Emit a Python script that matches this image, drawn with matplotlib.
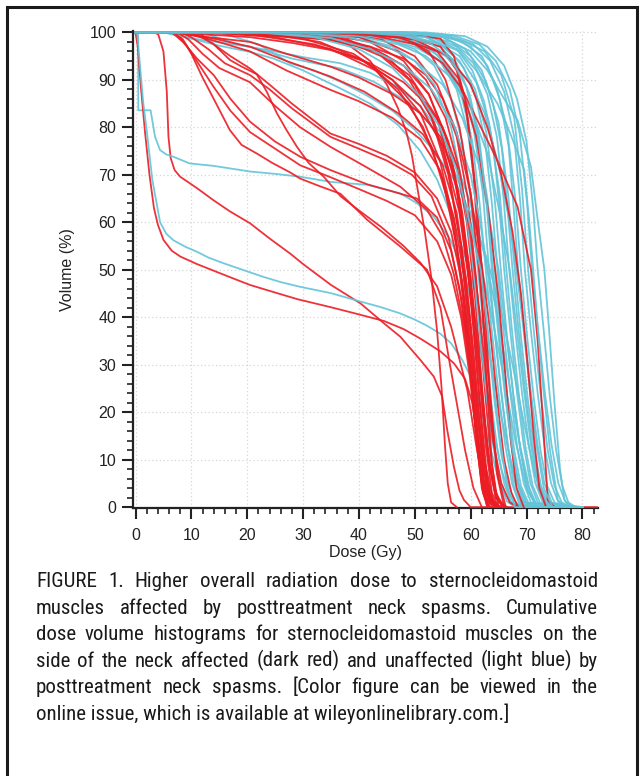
import matplotlib
matplotlib.use('Agg')
import matplotlib.pyplot as plt
from matplotlib.ticker import MultipleLocator
from matplotlib.patches import Rectangle
from matplotlib import font_manager
from matplotlib.font_manager import FontProperties
from matplotlib.textpath import TextPath
from itertools import zip_longest

# ---- data: cumulative DVH curves, (dose Gy, volume %) ----
# affected side (red)
red_low = [
    ([0, 3.5, 4.1, 5.0, 5.6, 5.9, 6.3, 7.0, 8.0, 11, 13.9, 16.9, 20.5, 24, 27.7, 30, 35, 40.3, 44.5, 47.4, 51, 53.4, 54.9, 55.8, 57, 58, 58.8, 60, 83],
     [100, 100, 99.5, 96, 87.5, 78, 73.5, 71, 69.6, 67.2, 64.7, 62.3, 59.8, 56.6, 53.4, 51.2, 46.8, 42.9, 38.7, 35.9, 31, 27.5, 23.3, 16.3, 8.5, 3.5, 1.5, 0, 0]),
    ([0, 0.4, 1.0, 1.7, 2.5, 3.3, 4.0, 5.0, 6.5, 8.0, 11, 14, 17, 20.5, 25, 29, 35, 40, 44.5, 48, 51, 54.6, 57, 59, 60.3, 61.3, 62.3, 63.5, 65],
     [100, 97, 88, 79, 70, 63, 59.5, 56.3, 54, 52.8, 51.2, 49.8, 48.4, 46.8, 45.2, 43.8, 42.1, 40.6, 39.2, 37.5, 35.5, 32.8, 30.3, 27, 22, 14, 6, 1.5, 0]),
    ([0, 10, 11.5, 14, 16.9, 19, 21.7, 23.5, 25.3, 27, 28.9, 31, 33.7, 36.7, 40, 44, 48, 51, 54, 56.5, 59.4, 61, 62.3, 63.5, 65],
     [100, 100, 99.8, 97.5, 94.2, 92.8, 91.2, 87.5, 83, 79.5, 75.9, 72.5, 69.6, 65.5, 62.5, 59, 55, 51.5, 46.5, 38, 24.7, 13, 5, 0.8, 0]),
    ([0, 7, 8.5, 10, 12, 14, 16.9, 19, 21.7, 24.5, 27.7, 29.5, 33, 36.7, 41.5, 47.4, 52.2, 54.6, 56, 57.5, 59, 60.5, 62],
     [100, 100, 98.5, 95.5, 90.5, 86, 79.4, 76.3, 74.5, 72.5, 70.5, 69.2, 67.6, 66, 60.5, 54.9, 50, 42, 32, 22, 12, 4, 0]),
    ([0, 25, 32, 38, 42, 45, 47, 48.5, 49.5, 50.5, 51.8, 53, 54, 54.8, 55.4, 55.9, 56.5, 57.5],
     [100, 100, 99.3, 97.5, 94, 89, 84, 79, 74, 67, 58, 48, 37, 25, 13, 5, 1, 0]),
]

red_fan = [
    ([0, 8, 12, 20.5, 28, 34.9, 42, 48, 52, 55, 57.5, 59.5, 61, 62.3, 63.5, 64.5, 66],
     [100, 100, 99.9, 99.6, 99.1, 98.4, 97, 94.5, 91, 86, 78, 65, 48, 28, 12, 3, 0]),
    ([0, 7, 10, 15, 20.5, 28, 34.9, 42, 48, 52, 55, 57.5, 59.3, 60.8, 62, 63.2, 64.5, 66],
     [100, 100, 99.7, 99.4, 99, 97.8, 96.3, 93.5, 89.5, 85, 80, 72, 60, 44, 26, 10, 2, 0]),
    ([0, 6.5, 9, 13, 20.5, 27, 34.9, 40, 46, 51, 54.6, 57, 58.8, 60.2, 61.4, 62.5, 63.6, 65],
     [100, 100, 99.6, 99, 98, 95.5, 92.8, 90.5, 87, 83, 78, 70, 58, 42, 25, 10, 2, 0]),
    ([0, 7.5, 10, 14, 20.5, 27, 34.9, 41, 47, 51.5, 55, 57.5, 59.2, 60.5, 61.6, 62.6, 63.6, 65],
     [100, 100, 99.5, 98.7, 97, 94, 90.7, 87.5, 83, 78.5, 72, 62, 48, 33, 18, 7, 1.5, 0]),
    ([0, 8, 10.5, 14, 20.5, 27, 34.9, 40, 46, 51, 54.5, 57, 58.8, 60, 61.2, 62.3, 63.3, 64.5],
     [100, 100, 99.3, 98.3, 96, 92, 87.9, 85.5, 82, 77.5, 71, 61, 49, 36, 20, 8, 2, 0]),
    ([0, 9, 11.5, 14, 17, 20.5, 24, 28, 34.9, 40, 45, 50, 54, 56.5, 58.5, 60, 61.2, 62.3, 63.5, 65],
     [100, 100, 99.2, 97.5, 95, 92.4, 89, 85, 78.7, 76.5, 74, 70.5, 65, 58, 47, 33, 19, 8, 2, 0]),
    ([0, 8, 10, 13, 16, 20.5, 24, 28, 34.9, 40, 45, 49.5, 53, 56, 58, 59.5, 60.7, 61.8, 62.8, 64],
     [100, 100, 99, 96.5, 93.5, 91, 88, 84, 78, 75.5, 73, 70, 65.5, 57, 46, 34, 20, 9, 2, 0]),
    ([0, 7.5, 9.5, 12, 15, 20.5, 25, 29.5, 34.9, 41.5, 47.4, 52.2, 55, 57, 58.5, 60, 61.2, 62.3, 63.3, 64.5],
     [100, 100, 98.5, 95.5, 92.5, 89.5, 84.5, 80, 75.9, 71.5, 67.5, 62.6, 57, 49, 40, 28, 16, 6, 1.5, 0]),
    ([0, 6.5, 8.5, 11, 14, 17, 20.5, 25, 29.5, 34.9, 41.5, 46, 50.4, 54, 56.5, 58.3, 59.8, 61, 62, 63.2],
     [100, 100, 98, 94.5, 91, 86, 81.2, 77, 73.8, 71, 68, 66.5, 65, 61, 54, 44, 31, 18, 7, 0]),
    ([0, 7, 9, 11.5, 14, 17, 20.5, 25, 29.5, 34.9, 40, 45, 50, 54, 56.5, 58.3, 59.8, 61, 62, 63],
     [100, 100, 97.5, 93, 88.5, 83.5, 79, 75.5, 72, 69.5, 67, 64.5, 61.5, 56, 49, 40, 28, 15, 5, 0]),
]

red_top = [
    ([0, 20, 30, 38, 44, 49, 53, 56, 58.3, 59.8, 61, 62.2, 63.3, 64.5, 66],
     [100, 100, 99.5, 98, 95, 90, 82, 70, 55, 40, 25, 11, 3, 0.5, 0]),
    ([0, 25, 35, 42, 48, 52.5, 56, 58.5, 60.3, 61.6, 62.8, 64, 65.2, 66.5],
     [100, 100, 99.2, 97, 93, 87, 77, 62, 45, 30, 15, 5, 1, 0]),
    ([0, 15, 25, 35, 43, 49, 54, 57.5, 59.5, 60.8, 61.8, 62.8, 64, 65],
     [100, 100, 99.5, 98.5, 96, 91, 82, 67, 50, 34, 20, 8, 1.5, 0]),
    ([0, 30, 40, 47, 52, 55.5, 58, 60, 61.5, 62.8, 64, 65.5, 67, 68.5],
     [100, 100, 99, 96, 90, 82, 71, 57, 42, 27, 14, 5, 1, 0]),
    ([0, 35, 44, 50, 54, 57.5, 60, 62, 63.5, 64.8, 66, 67.3, 68.5],
     [100, 100, 98.5, 95, 89, 79, 66, 51, 37, 22, 10, 3, 0]),
    ([0, 12, 22, 32, 40, 46, 51, 55, 58, 60, 61.5, 62.7, 63.8, 65],
     [100, 100, 99.3, 97.5, 94.5, 90, 84.5, 76, 62, 45, 28, 13, 3, 0]),
    ([0, 35, 45, 51, 54.6, 57, 59, 60.5, 61.7, 62.8, 63.8, 65],
     [100, 100, 99.7, 99.3, 98.7, 95, 86, 70, 50, 28, 9, 0]),
    ([0, 30, 42, 50, 54.6, 57.5, 59.5, 61, 62.3, 63.5, 64.7, 66],
     [100, 100, 99.5, 98.5, 97, 92, 82, 66, 45, 24, 7, 0]),
]

red_bundle = [
    ([0, 28, 38, 45, 50, 53.5, 56, 58, 59.3, 60.4, 61.4, 62.4, 63.5],
     [100, 100, 98.5, 95, 89, 81, 71, 57, 42, 27, 13, 3, 0]),
    ([0, 22, 33, 41, 47, 51.5, 55, 57.5, 59, 60.2, 61.2, 62.2, 63.2],
     [100, 100, 98, 94, 88, 80, 69, 55, 40, 25, 12, 3, 0]),
    ([0, 18, 30, 39, 46, 51, 54.5, 57, 58.8, 60, 61, 62, 63],
     [100, 100, 98.7, 95.5, 90, 83, 73, 60, 44, 29, 15, 4, 0]),
    ([0, 32, 42, 48, 52.5, 55.5, 58, 59.8, 61, 62.2, 63.3, 64.5, 65.8],
     [100, 100, 98, 94, 87, 78, 65, 50, 36, 21, 9, 2, 0]),
    ([0, 14, 25, 35, 43, 49, 53, 56.3, 58.4, 59.7, 60.8, 61.9, 63],
     [100, 100, 99, 96.5, 92, 85, 76, 63, 48, 33, 18, 6, 0]),
    ([0, 40, 48, 52.5, 55.5, 58, 60, 61.5, 62.7, 63.8, 65, 66.3],
     [100, 100, 99, 96, 90, 80, 66, 50, 34, 18, 6, 0]),
]

red_late = [
    ([0, 30, 42, 50, 55, 58.5, 61.2, 64.8, 68.4, 70.8, 72, 73, 73.8, 75],
     [100, 100, 99.5, 97.5, 93.5, 88, 81.5, 73, 63.3, 50, 35, 17, 1.5, 0]),
    ([0, 40, 50, 56, 60, 63, 65.5, 67.5, 69, 70.2, 71.3, 72.3, 73.5],
     [100, 100, 98.5, 95, 89, 80, 70, 58, 45, 30, 15, 4, 0]),
    ([0, 35, 47, 54, 58, 61, 63.2, 65, 66.2, 67.2, 68.2, 69.5],
     [100, 100, 99, 96, 90, 78, 62, 44, 28, 14, 4, 0]),
]

# unaffected side (blue)
blue_low = [
    ([0, 0.45, 0.5, 2.7, 3.0, 3.5, 4.4, 5.5, 6.8, 9.7, 13.9, 20.5, 25, 29.5, 35, 41.5, 47.4, 50.4, 53.4, 56.4, 58.2, 59.8, 61.2, 62.5, 64, 65.5, 67, 68.5, 80],
     [100, 100, 83.6, 83.6, 81.5, 78, 75.2, 74.3, 73.8, 72.4, 71.9, 70.7, 70.2, 69.6, 68.5, 67.9, 66.1, 64, 61.2, 56.3, 51.4, 45, 37, 28, 17, 8, 2.5, 0.3, 0]),
    ([0, 0.3, 0.8, 1.4, 2.0, 3.0, 4.4, 5.5, 6.8, 9, 11, 13, 15.7, 19.9, 22.9, 26, 29.5, 34.9, 40.3, 44, 47.4, 50, 52.2, 54.6, 56.5, 58.5, 60, 61, 61.8, 63, 64.5, 66, 67.5, 80],
     [100, 100, 93, 85, 79.4, 69, 60, 57.6, 56.2, 54.8, 53.8, 52.6, 51.4, 49.7, 48.5, 47.4, 46.4, 45.1, 43.3, 42.1, 40.8, 39.5, 38.2, 36.5, 34.5, 31, 27.5, 24.5, 21.2, 15, 8, 3, 0.5, 0]),
]

blue_early = [
    ([0, 5, 8, 12, 20.5, 28, 36.7, 42.7, 48.7, 52.5, 55.5, 58, 60, 62, 64, 66, 68, 70, 72, 80],
     [100, 100, 99.2, 98.4, 97, 94.5, 92.4, 89.6, 85.4, 81, 75.5, 68, 60, 50, 39, 27, 14, 4, 0, 0]),
    ([0, 6, 10, 15, 20.5, 24.7, 30, 36.7, 42, 47, 51, 54, 57, 59.5, 61.5, 63.5, 65.5, 67.5, 69.5, 80],
     [100, 100, 98.7, 97.2, 95.9, 94.5, 92, 88.2, 85, 80.5, 75, 69, 60, 51, 42, 31, 19, 8, 1, 0]),
    ([0, 12, 18.7, 25, 30, 36.7, 42, 47, 51, 54.5, 57.5, 60, 62.5, 64.5, 66.5, 68.5, 70.5, 72, 80],
     [100, 100, 97.3, 96, 94.8, 93.5, 91.5, 88.5, 84.5, 79, 72, 64, 53, 42, 29, 15, 4, 0, 0]),
    ([0, 15, 22, 27.7, 32, 36.7, 41, 46, 50, 53.5, 57, 60, 63, 65.5, 67.5, 69.5, 71.5, 73.5, 80],
     [100, 100, 97.5, 93.5, 92, 89.6, 87, 83.5, 79.5, 75, 69, 62, 52, 41, 30, 18, 7, 1, 0]),
]

blue_main = [
    ([0, 30, 40, 46, 50, 53.5, 56.5, 58.5, 60.5, 61.6, 62.8, 64, 65.3, 66.5, 68, 80],
     [100, 100, 99, 97, 94, 89, 80, 68, 50, 37, 24, 13, 5, 1.2, 0, 0]),
    ([0, 35, 44, 50, 53.5, 56.5, 58.5, 60, 61.3, 62.4, 63.6, 64.8, 66, 67.2, 68.7, 80],
     [100, 100, 99, 96.5, 93, 86, 77, 65, 50, 37, 23, 12, 5, 1.2, 0, 0]),
    ([0, 38, 46, 51, 54.5, 57.5, 59.5, 61, 62, 63.1, 64.3, 65.5, 66.8, 68, 69.5, 80],
     [100, 100, 99.2, 97, 94, 88, 79, 66, 50, 36, 22, 11, 4.5, 1, 0, 0]),
    ([0, 40, 48, 53, 56, 58.5, 60.3, 61.6, 62.7, 63.8, 65, 66.2, 67.4, 68.6, 70, 80],
     [100, 100, 99, 96.5, 92.5, 86, 77, 64, 50, 37, 24, 13, 5, 1, 0, 0]),
    ([0, 36, 45, 51, 55, 58, 60.5, 62.2, 63.3, 64.4, 65.6, 66.8, 68, 69.3, 70.8, 80],
     [100, 100, 99.3, 97.5, 94.5, 89, 80, 66, 50, 36, 23, 12, 5, 1, 0, 0]),
    ([0, 42, 50, 54.5, 57.5, 59.8, 61.5, 62.8, 63.8, 64.9, 66.1, 67.3, 68.5, 69.8, 71.3, 80],
     [100, 100, 99, 97, 93.5, 87, 78, 65, 50, 37, 24, 13, 5, 1, 0, 0]),
    ([0, 33, 43, 50, 54.5, 58, 60.8, 63, 64.3, 65.4, 66.6, 67.8, 69, 70.3, 71.8, 80],
     [100, 100, 99, 97, 94, 88.5, 80, 65, 50, 36.5, 23, 12, 4.5, 1, 0, 0]),
    ([0, 44, 52, 56, 58.8, 61, 62.6, 63.8, 64.8, 65.9, 67.1, 68.3, 69.5, 70.8, 72.3, 80],
     [100, 100, 99, 96.5, 92.5, 86, 77, 64, 50, 37, 24, 13, 5, 1, 0, 0]),
    ([0, 40, 49, 54.5, 58, 60.8, 62.8, 64.3, 65.4, 66.5, 67.7, 68.9, 70.1, 71.4, 72.9, 80],
     [100, 100, 99.3, 97.5, 94, 88, 79, 65, 50, 36, 23, 12, 5, 1, 0, 0]),
    ([0, 46, 53, 57.5, 60.3, 62.4, 64, 65.1, 66, 67.1, 68.3, 69.5, 70.7, 72, 73.5, 80],
     [100, 100, 99, 96.5, 92, 85.5, 76.5, 64, 50, 37, 24, 13, 5, 1, 0, 0]),
    ([0, 38, 48, 54, 58, 61, 63.3, 65.2, 66.4, 67.5, 68.7, 69.9, 71.1, 72.4, 73.9, 80],
     [100, 100, 99.4, 97.8, 95, 89.5, 81, 66, 50, 36, 23, 12, 4.5, 1, 0, 0]),
    ([0, 45, 53, 57.5, 60.5, 63, 64.7, 65.9, 66.9, 68, 69.2, 70.4, 71.6, 72.9, 74.4, 80],
     [100, 100, 99.2, 97, 93.5, 87, 78, 65, 50, 37, 24, 13, 5, 1, 0, 0]),
    ([0, 48, 55, 59, 62, 64, 65.6, 66.6, 67.5, 68.6, 69.8, 71, 72.2, 73.5, 75, 80],
     [100, 100, 99, 96.5, 92, 85, 75.5, 63, 50, 37, 24, 13, 5, 1, 0, 0]),
    ([0, 42, 51, 56.5, 60, 62.8, 65, 66.7, 67.9, 69, 70.2, 71.4, 72.6, 73.9, 75.4, 80],
     [100, 100, 99.4, 98, 95, 89.5, 81, 66, 50, 36, 23, 12, 4.5, 1, 0, 0]),
    ([0, 50, 56, 60, 63, 65.2, 66.8, 67.7, 68.5, 69.6, 70.8, 72, 73.2, 74.5, 76, 80],
     [100, 100, 99.2, 97, 93, 86, 76, 63, 50, 37, 24, 13, 5, 1, 0, 0]),
    ([0, 46, 54, 58.5, 62, 64.5, 66.5, 68, 69, 70.1, 71.3, 72.5, 73.7, 75, 76.5, 80],
     [100, 100, 99.5, 98, 95, 89, 80, 65, 50, 36, 23, 12, 4.5, 1, 0, 0]),
    ([0, 48, 56, 60.5, 63.5, 66, 67.8, 68.9, 69.7, 70.8, 72, 73.2, 74.4, 75.7, 77.2, 80],
     [100, 100, 99.3, 97.5, 94, 87.5, 78, 64, 50, 37, 24, 13, 5, 1, 0, 0]),
    ([0, 44, 53, 58.5, 62.5, 65.5, 67.8, 69.2, 70.3, 71.4, 72.6, 73.8, 75, 76.3, 77.8, 80],
     [100, 100, 99.5, 98.3, 96, 91, 82, 67, 50, 36, 23, 12, 4.5, 1, 0, 0]),
    ([0, 50, 57, 61.5, 64.5, 67, 68.8, 70.1, 71, 72.1, 73.3, 74.5, 75.7, 77, 78.3, 80],
     [100, 100, 99.3, 97.5, 94, 88, 78.5, 64, 50, 37, 24, 13, 5, 1, 0, 0]),
    ([0, 52, 59, 63, 66, 68.3, 70, 71.2, 72, 73.1, 74.2, 75.3, 76.4, 77.5, 78.8, 80],
     [100, 100, 99.2, 97, 93, 86, 77, 63, 50, 37, 23, 12, 4.5, 1, 0, 0]),
    ([0, 25, 35, 42, 48, 53, 57, 60, 61.7, 63, 64.2, 65.4, 66.6, 67.8, 69.3, 80],
     [100, 100, 98.8, 96.5, 93, 88, 80.5, 70, 60, 50, 38, 25, 13, 4, 0, 0]),
    ([0, 28, 38, 45, 50, 55, 58.5, 61.5, 63.3, 65, 66.3, 67.6, 68.9, 70.2, 71.8, 80],
     [100, 100, 99, 97, 94, 89, 82, 72, 61, 50, 37, 24, 12, 3.5, 0, 0]),
    ([0, 30, 40, 47, 52, 56.5, 60, 63, 65.2, 67, 68.2, 69.5, 70.8, 72.1, 73.7, 80],
     [100, 100, 99.2, 97.5, 95, 90.5, 84, 74.5, 62, 50, 38, 25, 13, 4, 0, 0]),
    ([0, 35, 45, 51, 55.5, 59.5, 62.5, 65, 66.8, 68.2, 69.4, 70.6, 71.8, 73.1, 74.7, 80],
     [100, 100, 99.3, 97.8, 95, 90, 83, 72, 61, 50, 38, 25, 13, 4, 0, 0]),
    ([0, 22, 32, 40, 46, 51, 54.5, 57.5, 60, 61.8, 63, 64.2, 65.4, 66.6, 68, 80],
     [100, 100, 99, 96.5, 92.5, 86.5, 80, 71, 59, 50, 38, 25, 13, 4, 0, 0]),
    ([0, 40, 48, 53, 56.5, 59.2, 61.2, 62.8, 64, 65.1, 66.3, 67.5, 68.7, 70, 71.5, 80],
     [100, 100, 99.3, 97.5, 94.5, 88.5, 79, 65, 50, 36.5, 23, 12, 4.5, 1, 0, 0]),
    ([0, 48, 55, 60, 63, 66, 68.4, 70.8, 72, 73.2, 74, 75, 76, 76.8, 78, 80],
     [100, 100, 99, 96, 92, 86, 81.5, 71.7, 60.5, 50, 38, 22, 8, 1.5, 0, 0]),
    ([0, 45, 52, 58, 61, 64.8, 67, 69.6, 70.5, 71.2, 72, 73, 74.2, 75.6, 77, 80],
     [100, 100, 99, 96, 92, 85, 79, 71, 60, 50, 38, 25, 12, 1.5, 0, 0]),
]

caption_lines = [
    "FIGURE 1. Higher overall radiation dose to sternocleidomastoid",
    "muscles affected by posttreatment neck spasms. Cumulative",
    "dose volume histograms for sternocleidomastoid muscles on the",
    "side of the neck affected (dark red) and unaffected (light blue) by",
    "posttreatment neck spasms. [Color figure can be viewed in the",
    "online issue, which is available at wileyonlinelibrary.com.]",
]

RED = '#ec1c24'
BLUE = '#62c4d8'

plt.rcParams['font.family'] = ['Liberation Sans', 'DejaVu Sans']


def pick_caption_font():
    # the caption is set in a condensed sans; use a narrow face if one is installed
    fonts = font_manager.fontManager.ttflist
    for name in ['Liberation Sans Narrow', 'Arial Narrow', 'Roboto Condensed',
                 'Open Sans Condensed', 'Noto Sans Condensed', 'DejaVu Sans Condensed']:
        for f in fonts:
            if f.name == name and f.style == 'normal' and f.weight in (400, 'normal', 'regular'):
                return FontProperties(fname=f.fname)
    for f in fonts:
        fn = f.fname.lower()
        if (f.stretch in ('condensed', 'semi-condensed') or 'narrow' in fn or 'condensed' in fn) \
                and f.style == 'normal' and f.weight in (400, 'normal', 'regular') \
                and 'mono' not in fn and 'serif' not in fn and 'bold' not in fn:
            return FontProperties(fname=f.fname)
    return FontProperties(family='Liberation Sans')


W, H = 641, 776
fig = plt.figure(figsize=(W / 100, H / 100), dpi=100)
ax = fig.add_axes([133 / W, 1 - 508.3 / H, 465 / W, 477.3 / H])

reds = red_low + red_fan + red_top + red_bundle + red_late
blues = blue_low + blue_early + blue_main
for r, b in zip_longest(reds, blues):
    if r is not None:
        ax.plot(r[0], r[1], color=RED, lw=1.3, alpha=0.9, solid_joinstyle='round')
    if b is not None:
        ax.plot(b[0], b[1], color=BLUE, lw=1.3, alpha=0.9, solid_joinstyle='round')

ax.set_xlim(-0.45, 82.8)
ax.set_ylim(-0.25, 100.3)
ax.xaxis.set_major_locator(MultipleLocator(10))
ax.xaxis.set_minor_locator(MultipleLocator(2))
ax.yaxis.set_major_locator(MultipleLocator(10))
ax.yaxis.set_minor_locator(MultipleLocator(2))

for side in ['top', 'right']:
    ax.spines[side].set_visible(False)
for side in ['left', 'bottom']:
    ax.spines[side].set_linewidth(1.6)
    ax.spines[side].set_color('#222222')
    ax.spines[side].set_zorder(1.5)

ax.tick_params(which='major', direction='out', length=8, width=1.5, color='#222222',
               labelsize=11.5, labelcolor='#222222')
ax.tick_params(which='minor', direction='out', length=4.5, width=1.2, color='#222222')
ax.tick_params(axis='x', which='major', pad=6)
ax.tick_params(axis='y', which='major', pad=4)

ax.grid(True, which='major', color='#d6d6d6', linestyle=(0, (1, 2)), linewidth=0.9)
ax.set_axisbelow(True)

ax.set_xlabel('Dose (Gy)', fontsize=11.5, color='#222222')
ax.set_ylabel('Volume (%)', fontsize=11.5, color='#222222')
ax.xaxis.set_label_coords(0.5, -0.077)
ax.yaxis.set_label_coords(-0.125, 0.5)

# outer frame of the figure panel
fig.add_artist(Rectangle((7 / W, -0.05), 630 / W, 1.05 - 7 / H, transform=fig.transFigure,
                         fill=False, edgecolor='#1a1a1a', linewidth=2.2))

# justified caption
cap_font = pick_caption_font()
renderer = fig.canvas.get_renderer()


def sized(size):
    fp = cap_font.copy()
    fp.set_size(size)
    return fp


def text_width(s, size):
    t = fig.text(0, 0, s, fontproperties=sized(size))
    w = t.get_window_extent(renderer).width
    t.remove()
    return w


def cap_height_px(size):
    ext = TextPath((0, 0), 'H', prop=sized(size)).get_extents()
    return ext.height * 100 / 72


left, right = 36, 598
cap_size = 12 * 14.8 / cap_height_px(12)
longest = max(text_width(l, cap_size) for l in caption_lines[:-1])
if longest > (right - left) - 8:
    cap_size *= ((right - left) - 8) / longest

base0, pitch = 587, 26.6
for i, line in enumerate(caption_lines):
    y = 1 - (base0 + i * pitch) / H
    if i == len(caption_lines) - 1:
        fig.text(left / W, y, line, fontproperties=sized(cap_size),
                 color='#1a1a1a', va='baseline', ha='left')
        continue
    words = line.split(' ')
    widths = [text_width(w, cap_size) for w in words]
    gap = (right - left - sum(widths)) / (len(words) - 1)
    x = left
    for w, wd in zip(words, widths):
        fig.text(x / W, y, w, fontproperties=sized(cap_size),
                 color='#1a1a1a', va='baseline', ha='left')
        x += wd + gap

fig.savefig('out.png', dpi=100)
